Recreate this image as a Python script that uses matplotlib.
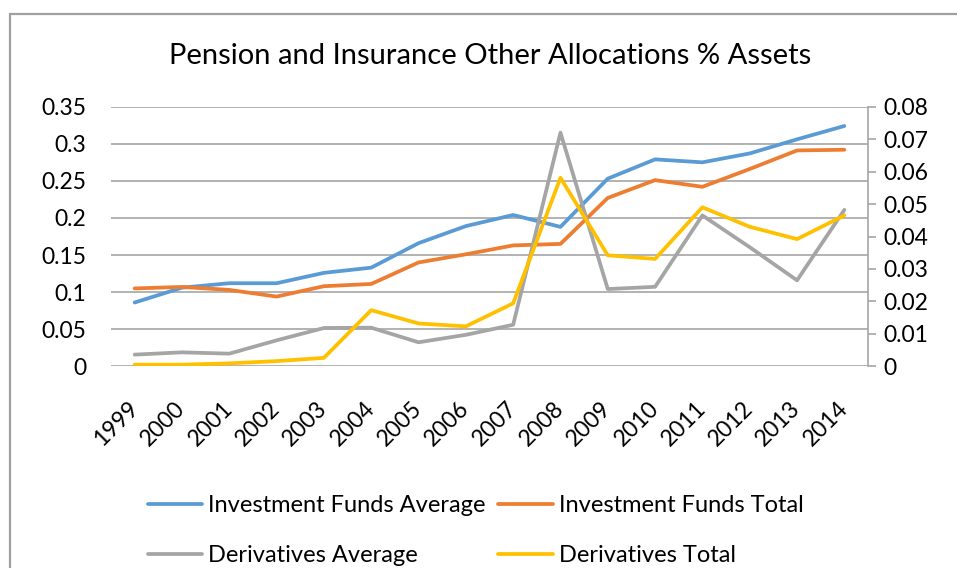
import numpy as np
import matplotlib.pyplot as plt
from matplotlib.patches import Rectangle

years = ['1999', '2000', '2001', '2002', '2003', '2004', '2005', '2006',
         '2007', '2008', '2009', '2010', '2011', '2012', '2013', '2014']

# левая ось
inv_avg = [0.086, 0.106, 0.112, 0.112, 0.126, 0.133, 0.166, 0.189,
           0.204, 0.188, 0.253, 0.279, 0.275, 0.287, 0.306, 0.324]
inv_total = [0.105, 0.107, 0.103, 0.094, 0.108, 0.111, 0.140, 0.151,
             0.163, 0.165, 0.227, 0.251, 0.242, 0.266, 0.291, 0.292]

# правая ось
der_avg = [0.0036, 0.0043, 0.0039, 0.0080, 0.0118, 0.0119, 0.0074, 0.0097,
           0.0128, 0.0720, 0.0238, 0.0245, 0.0465, 0.0367, 0.0265, 0.0482]
der_total = [0.0005, 0.0005, 0.0009, 0.0016, 0.0026, 0.0173, 0.0132, 0.0123,
             0.0194, 0.0581, 0.0342, 0.0331, 0.0490, 0.0430, 0.0392, 0.0465]

plt.rcParams['font.family'] = ['Lato', 'DejaVu Sans']
grid_c = '#a6a6a6'
fs = 16.5

fig = plt.figure(figsize=(9.57, 5.68), dpi=100)
ax = fig.add_axes([111 / 957, 1 - 366.3 / 568, 757 / 957, 259.6 / 568])
ax2 = ax.twinx()

x = np.arange(len(years))
l1, = ax.plot(x, inv_avg, color='#5B9BD5', lw=2.7, solid_capstyle='round')
l2, = ax.plot(x, inv_total, color='#ED7D31', lw=2.7, solid_capstyle='round')
l3, = ax2.plot(x, der_avg, color='#A5A5A5', lw=2.7, solid_capstyle='round')
l4, = ax2.plot(x, der_total, color='#FFC000', lw=2.7, solid_capstyle='round')

ax.set_xlim(-0.5, len(years) - 0.5)
ax.set_ylim(0, 0.35)
ax2.set_ylim(0, 0.08)
ax.set_yticks(np.arange(0, 0.351, 0.05))
ax.set_yticklabels(['0', '0.05', '0.1', '0.15', '0.2', '0.25', '0.3', '0.35'])
ax2.set_yticks(np.arange(0, 0.081, 0.01))
ax2.set_yticklabels(['0', '0.01', '0.02', '0.03', '0.04', '0.05', '0.06', '0.07', '0.08'])
ax.yaxis.grid(True, color=grid_c, lw=1.2)
ax.set_axisbelow(True)

for a in (ax, ax2):
    for s in a.spines.values():
        s.set_visible(False)
ax2.spines['right'].set_visible(True)
ax2.spines['right'].set_color(grid_c)
ax2.spines['right'].set_linewidth(1.2)

ax.tick_params(axis='y', length=0, labelsize=fs, pad=18)
ax2.tick_params(axis='y', length=6, width=1.2, color=grid_c, labelsize=fs, pad=5)
ax.set_xticks(x)
ax.set_xticklabels(years)
ax.tick_params(axis='x', length=0, labelsize=fs, pad=28)
for lab in ax.get_xticklabels():
    lab.set_rotation(45)
    lab.set_ha('right')
    lab.set_va('center')
    lab.set_rotation_mode('anchor')

fig.text(490 / 957, 1 - 56 / 568, 'Pension and Insurance Other Allocations % Assets',
         ha='center', va='center', fontsize=21)

fig.legend([l1, l3, l2, l4],
           ['Investment Funds Average', 'Derivatives Average',
            'Investment Funds Total', 'Derivatives Total'],
           ncol=2, loc='upper left', bbox_to_anchor=(136 / 957, 1 - 483 / 568),
           frameon=False, fontsize=17, handlelength=2.3, handletextpad=0.25,
           columnspacing=0.55, labelspacing=1.25, borderpad=0)

fig.patches.append(Rectangle((10 / 957, -0.5), 2, 0.5 + 1 - 14 / 568,
                             transform=fig.transFigure, fill=False,
                             ec='#a0a0a0', lw=1.6))

fig.savefig('out.png', dpi=100)
